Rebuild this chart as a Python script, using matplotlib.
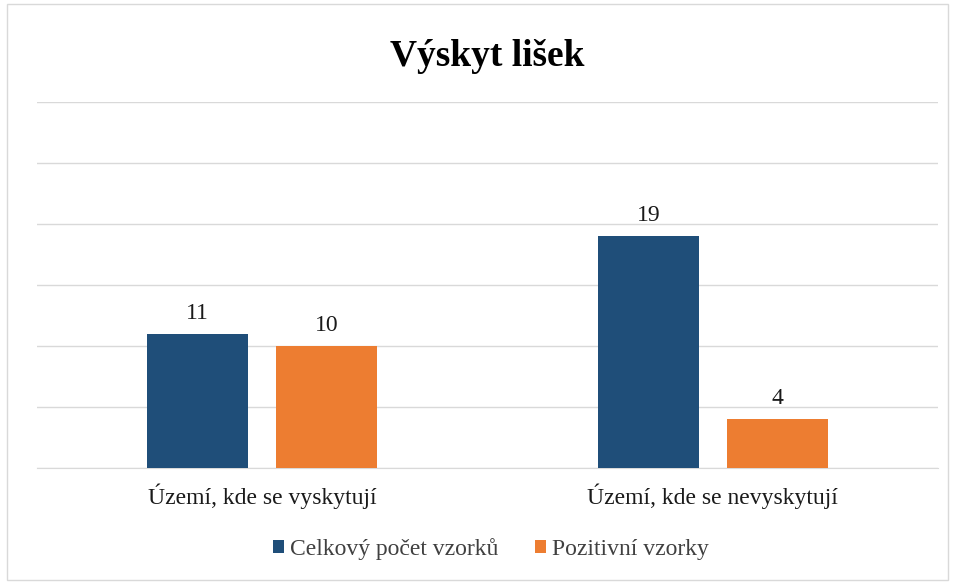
import matplotlib.pyplot as plt
from matplotlib.patches import Rectangle
import numpy as np

plt.rcParams['font.family'] = ['Liberation Serif', 'DejaVu Serif']

# data
categories = ['Území, kde se vyskytují', 'Území, kde se nevyskytují']
celkovy = [11, 19]
pozitivni = [10, 4]
series_names = ['Celkový počet vzorků', 'Pozitivní vzorky']

blue = '#1F4E79'
orange = '#ED7D31'

fig = plt.figure(figsize=(9.55, 5.83), dpi=100)
ax = fig.add_axes([37/955, 1 - 468/583, (938-37)/955, (468-102)/583])

x = np.arange(len(categories))
w = 0.224
off = 0.143
b1 = ax.bar(x - off, celkovy, w, color=blue, label=series_names[0], zorder=3)
b2 = ax.bar(x + off, pozitivni, w, color=orange, label=series_names[1], zorder=3)

for bars in (b1, b2):
    for r in bars:
        ax.annotate(str(int(r.get_height())), (r.get_x() + r.get_width()/2, r.get_height()),
                    xytext=(0, 7), textcoords='offset points', ha='center', va='bottom',
                    fontsize=17, color='#1a1a1a')

ax.set_xlim(-0.5, 1.5)
ax.set_ylim(0, 30)
ax.set_yticks(np.arange(0, 31, 5))
ax.yaxis.grid(True, color='#D9D9D9', linewidth=1, zorder=0)
ax.tick_params(axis='y', left=False, labelleft=False)
ax.tick_params(axis='x', bottom=False, pad=8)
ax.set_xticks(x)
ax.set_xticklabels(categories, fontsize=17, color='#1a1a1a')
for s in ['top', 'right', 'left']:
    ax.spines[s].set_visible(False)
ax.spines['bottom'].set_color('#D9D9D9')

fig.text(487/955, 1 - 57/583, 'Výskyt lišek', ha='center', va='center',
         fontsize=27, fontweight='bold')

leg = fig.legend(handles=[b1, b2], loc='center', bbox_to_anchor=(491/955, 1 - 549/583),
                 ncol=2, frameon=False, fontsize=17, handlelength=0.47, handleheight=0.47,
                 handletextpad=0.25, columnspacing=1.55)
for t in leg.get_texts():
    t.set_color('#404040')

fig.patches.append(Rectangle((7/955, 3/583), 941/955, 576/583, transform=fig.transFigure,
                             fill=False, edgecolor='#D9D9D9', linewidth=1))

plt.savefig('out.png', dpi=100)
